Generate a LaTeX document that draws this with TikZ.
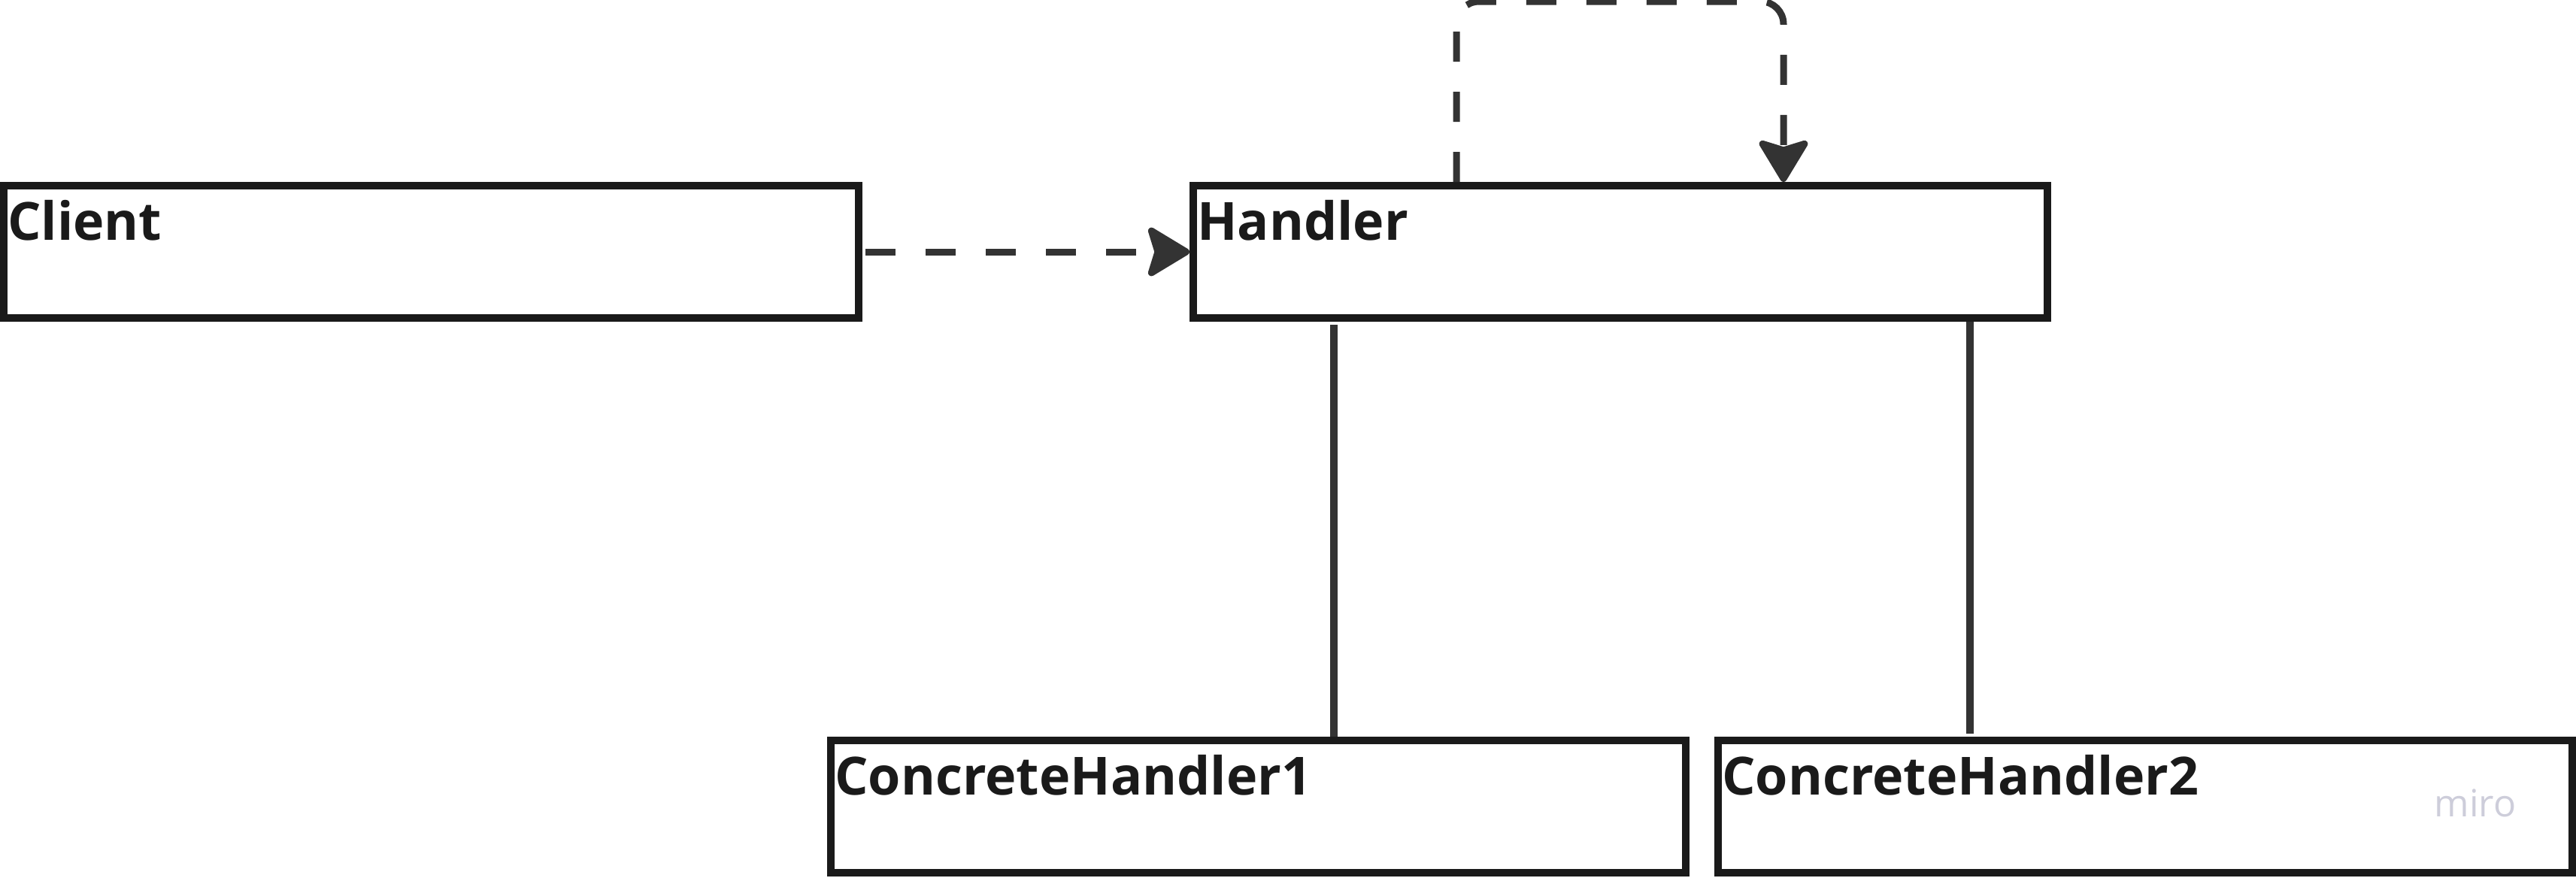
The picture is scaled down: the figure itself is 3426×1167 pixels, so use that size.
\documentclass[tikz,border=0pt]{standalone}
\usepackage{fontspec}
\setmainfont{Open Sans}
\usetikzlibrary{arrows.meta,calc}
\definecolor{boxc}{HTML}{1A1A1A}
\definecolor{linec}{HTML}{333333}
\definecolor{miroc}{HTML}{CDCDDA}
\tikzset{
  cls/.style={draw=boxc, line width=10pt, rectangle, inner sep=0pt, minimum height=176pt, minimum width=#1},
  title/.style={anchor=base west, inner sep=0pt, text=boxc, font=\fontsize{70}{80}\bfseries\selectfont},
  dep/.style={draw=linec, line width=9pt, dash pattern=on 40pt off 40pt, -{Stealth[length=62pt, width=74pt, inset=11pt, round]}},
  assoc/.style={draw=linec, line width=10pt},
}
\begin{document}
\begin{tikzpicture}[x=1pt, y=-1pt]
\useasboundingbox (0,0) rectangle (3426,1167);
\node[cls=1137pt] (client) at (573.5,335) {};
\node[cls=1136pt] (handler) at (2155,335) {};
\node[cls=1137pt] (ch1) at (1673.5,1073) {};
\node[cls=1136pt] (ch2) at (2853,1073) {};
\node[title] (tclient) at ($(client.north west)+(10,77)$) {Client};
\node[title] (thandler) at ($(handler.north west)+(10,77)$) {Handler};
\node[title] (tch1) at ($(ch1.north west)+(10,77)$) {ConcreteHandler1};
\node[title] (tch2) at ($(ch2.north west)+(10,77)$) {ConcreteHandler2};
\node[anchor=base, inner sep=0pt, text=miroc, font=\fontsize{50}{50}\selectfont] (miro) at (3292,1086) {miro};
% dependency client -> handler
\draw[dep, shorten <=4pt] (client.east) -- (handler.west);
% self loop
\coordinate (lpA) at ($(handler.north west)+(355,0)$);
\coordinate (lpB) at ($(handler.north west)+(790,0)$);
\draw[dep, rounded corners=30pt] (lpA) -- ++(0,-240) -| (lpB);
% associations
\coordinate (s1) at ($(handler.south west)+(192,4)$);
\coordinate (s2) at ($(handler.south west)+(1038,0)$);
\draw[assoc] (s1) -- (s1 |- ch1.north);
\draw[assoc] (s2) -- ($(s2 |- ch2.north)+(0,-4)$);
\end{tikzpicture}
\end{document}
